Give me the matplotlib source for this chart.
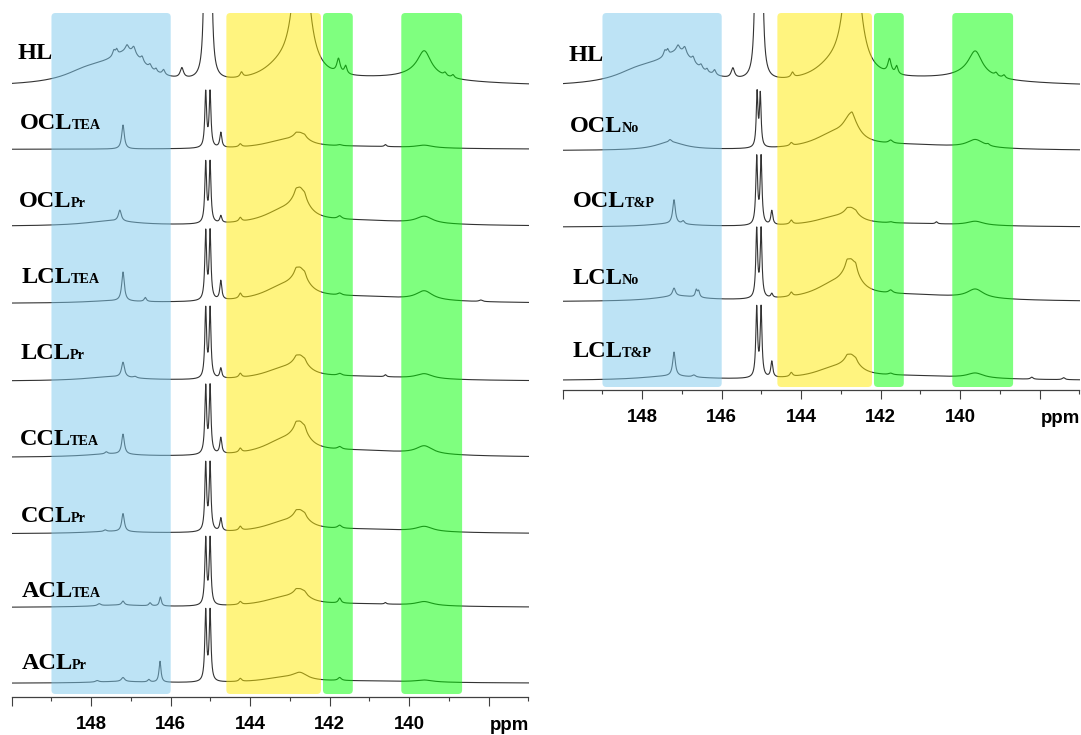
import numpy as np
import matplotlib
matplotlib.use("Agg")
import matplotlib.pyplot as plt
from matplotlib.patches import FancyBboxPatch
from matplotlib.ticker import FixedLocator, FixedFormatter

# ppm axis
PPM_MAX, PPM_MIN = 150.0, 137.0
MAJOR = [150, 148, 146, 144, 142, 140, 138]
MAJOR_LABELS = ['', '148', '146', '144', '142', '140', '']
MINOR = [149, 147, 145, 143, 141, 139, 137]

# shaded regions (ppm)
BAND_LO = [146.0, 142.22, 141.42, 138.67]
BAND_HI = [149.0, 144.6, 142.17, 140.2]
BAND_COLORS = ['#7DC9ED', '#FFEB00', '#00FF00', '#00FF00']

# peaks: (ppm, height, half width)
HL = [(140.5, 7, 2.5), (148.2, 5, 0.6), (147.7, 13, 0.9), (147.05, 24, 0.5),
      (147.43, 6, 0.04), (147.36, 5, 0.03), (147.1, 6, 0.05), (146.93, 7, 0.05),
      (146.72, 5, 0.04), (146.52, 4, 0.04), (146.37, 3, 0.03), (146.18, 5, 0.04),
      (145.72, 10, 0.05), (145.12, 400, 0.027), (145.01, 400, 0.027), (144.22, 5, 0.04),
      (143.25, 12, 0.55), (142.72, 200, 0.17), (141.78, 14, 0.05), (141.6, 8, 0.04),
      (139.7, 7, 0.5), (139.62, 22, 0.2), (139.1, 3, 0.04), (138.9, 3, 0.04)]
OCL_TEA = [(141.2, 2.5, 1.8), (147.2, 24, 0.04), (145.12, 55, 0.027), (145.01, 55, 0.027),
           (144.74, 15, 0.03), (144.25, 3, 0.04), (143.2, 6.7, 0.6), (142.75, 11, 0.22),
           (142.85, 1.5, 0.04), (142.63, 1.5, 0.04), (141.75, 1, 0.06), (140.6, 2, 0.03),
           (139.62, 2.6, 0.25)]
OCL_PR = [(141.2, 5, 1.8), (147.5, 5, 0.8), (147.28, 11, 0.045), (145.12, 60, 0.027),
          (145.01, 60, 0.027), (144.74, 7, 0.03), (144.25, 4, 0.04), (143.2, 11.8, 0.6),
          (142.75, 28, 0.22), (142.85, 3, 0.04), (142.63, 3, 0.04), (141.75, 3, 0.06),
          (139.62, 7, 0.25)]
LCL_TEA = [(141.2, 6, 1.8), (147.5, 2, 0.8), (147.2, 29, 0.04), (146.64, 4, 0.035),
           (145.12, 68, 0.027), (145.01, 68, 0.027), (144.74, 19, 0.03), (144.25, 5, 0.04),
           (143.2, 12.8, 0.6), (142.75, 24, 0.22), (142.85, 3, 0.04), (142.63, 3, 0.04),
           (141.75, 2, 0.06), (139.62, 9, 0.25), (138.2, 1.5, 0.05)]
LCL_PR = [(141.2, 4, 1.8), (147.5, 4, 0.8), (147.2, 15, 0.045), (146.9, 1.5, 0.05),
          (145.12, 69, 0.027), (145.01, 69, 0.027), (144.74, 10, 0.03), (144.25, 4, 0.04),
          (143.2, 9.4, 0.6), (142.75, 17.5, 0.22), (142.85, 2, 0.04), (142.63, 2, 0.04),
          (141.75, 2, 0.06), (140.6, 2, 0.03), (139.62, 5, 0.25)]
CCL_TEA = [(141.2, 6, 1.8), (147.5, 3, 0.8), (147.62, 2, 0.04), (147.2, 20, 0.04),
           (145.12, 67, 0.027), (145.01, 67, 0.027), (144.74, 16, 0.03), (144.25, 4, 0.04),
           (143.2, 12.8, 0.6), (142.75, 24, 0.22), (142.85, 3, 0.04), (142.63, 3, 0.04),
           (141.75, 2.5, 0.06), (139.62, 8, 0.25)]
CCL_PR = [(141.2, 4, 1.8), (147.5, 2, 0.8), (147.65, 1.5, 0.04), (147.2, 18, 0.04),
          (145.12, 67, 0.027), (145.01, 67, 0.027), (144.74, 13, 0.03), (144.25, 4, 0.04),
          (143.2, 8.5, 0.6), (142.75, 16, 0.22), (142.85, 2, 0.04), (142.63, 2, 0.04),
          (141.75, 3, 0.06), (139.62, 5, 0.25)]
ACL_TEA = [(141.2, 3, 1.8), (147.3, 2, 0.8), (147.8, 2, 0.05), (147.2, 4, 0.04),
           (146.52, 3, 0.035), (146.26, 9, 0.03), (145.12, 66, 0.027), (145.01, 66, 0.027),
           (144.25, 3, 0.04), (143.2, 7.4, 0.6), (142.75, 12, 0.22), (142.85, 1.5, 0.04),
           (142.63, 1.5, 0.04), (141.75, 5, 0.04), (140.6, 1.5, 0.03), (139.62, 4, 0.25)]
ACL_PR = [(141.2, 2, 1.8), (147.3, 1.5, 0.8), (147.85, 1.5, 0.05), (147.2, 4, 0.05),
          (146.55, 2.5, 0.035), (146.27, 21, 0.03), (145.12, 70, 0.027), (145.01, 70, 0.027),
          (144.25, 3, 0.04), (143.2, 4.4, 0.6), (142.75, 7, 0.22), (141.75, 3, 0.05),
          (139.62, 2, 0.25)]
OCL_NO = [(141.2, 5, 1.8), (147.3, 8, 0.45), (147.3, 2.5, 0.04), (145.11, 54, 0.025),
          (145.03, 52, 0.025), (144.25, 3, 0.04), (143.2, 13.2, 0.6), (142.75, 25, 0.22),
          (142.72, 3, 0.04), (141.75, 3, 0.06), (139.62, 8, 0.25), (139.3, 1.5, 0.04)]
OCL_TP = [(141.2, 3, 1.8), (147.3, 3, 0.7), (147.2, 24, 0.04), (146.97, 3, 0.04),
          (145.12, 67, 0.027), (145.01, 67, 0.027), (144.74, 14, 0.03), (144.25, 4, 0.04),
          (143.2, 7.3, 0.6), (142.75, 13, 0.22), (142.85, 1.5, 0.04), (142.63, 1.5, 0.04),
          (141.75, 1, 0.06), (140.6, 2, 0.03), (139.62, 4, 0.25)]
LCL_NO = [(141.2, 6, 1.8), (147.1, 5, 0.7), (147.2, 8, 0.045), (146.64, 7, 0.03),
          (146.58, 6, 0.03), (145.12, 68, 0.027), (145.01, 68, 0.027), (144.74, 4, 0.03),
          (144.25, 4, 0.04), (143.2, 13.2, 0.6), (142.75, 30, 0.22), (142.85, 4, 0.04),
          (142.63, 5, 0.04), (141.75, 3, 0.06), (139.62, 9, 0.25)]
LCL_TP = [(141.2, 4, 1.8), (147.3, 4, 0.9), (147.2, 24, 0.04), (146.7, 2, 0.05),
          (145.12, 69, 0.027), (145.01, 69, 0.027), (144.74, 16, 0.03), (144.25, 4, 0.04),
          (143.2, 9.4, 0.6), (142.75, 17.5, 0.22), (142.85, 2, 0.04), (142.63, 2, 0.04),
          (141.75, 1.5, 0.06), (139.62, 5, 0.25), (138.2, 2, 0.04), (137.4, 2, 0.04)]

LEFT_SPECTRA = [HL, OCL_TEA, OCL_PR, LCL_TEA, LCL_PR, CCL_TEA, CCL_PR, ACL_TEA, ACL_PR]
LEFT_OFFSETS = [610, 547.6, 470.5, 393.4, 315.7, 239.4, 163.1, 89.5, 13.7]
LEFT_NAMES = [('HL', ''), ('OCL', 'TEA'), ('OCL', 'Pr'), ('LCL', 'TEA'), ('LCL', 'Pr'),
              ('CCL', 'TEA'), ('CCL', 'Pr'), ('ACL', 'TEA'), ('ACL', 'Pr')]

RIGHT_SPECTRA = [HL, OCL_NO, OCL_TP, LCL_NO, LCL_TP]
RIGHT_OFFSETS = [302.8, 239.2, 162.8, 88.1, 9.4]
RIGHT_NAMES = [('HL', ''), ('OCL', 'No'), ('OCL', 'T&P'), ('LCL', 'No'), ('LCL', 'T&P')]

W, H = 1081, 735
# label anchor (left x, text baseline y) in pixels
LEFT_LABEL_POS = [(18, 59), (20, 129), (19, 207), (22, 283), (21, 359),
                  (20, 445), (21, 522), (22, 597), (22, 669)]
RIGHT_LABEL_POS = [(569, 61), (570, 132), (573, 207), (573, 284), (573, 357)]

ppm = np.linspace(PPM_MAX, PPM_MIN, 6501)


def spectrum(peaks):
    y = np.zeros_like(ppm)
    for c, h, w in peaks:
        y += h * w ** 2 / ((ppm - c) ** 2 + w ** 2)
    return y


fig = plt.figure(figsize=(W / 100, H / 100), dpi=100)


def make_axes(x0, x1, ytop, ybot):
    return fig.add_axes([x0 / W, 1 - ybot / H, (x1 - x0) / W, (ybot - ytop) / H])


axL = make_axes(11.7, 528.5, 13, 697)
axR = make_axes(562.7, 1079.5, 13, 390)

tick_font = dict(family='Liberation Sans', weight='bold', size=13.4)

for ax, spectra, offsets, height in [(axL, LEFT_SPECTRA, LEFT_OFFSETS, 684),
                                     (axR, RIGHT_SPECTRA, RIGHT_OFFSETS, 377)]:
    ax.set_xlim(PPM_MAX, PPM_MIN)
    ax.set_ylim(0, height)
    for peaks, off in zip(spectra, offsets):
        ax.plot(ppm, off + spectrum(peaks), color='#333333', lw=0.8, zorder=2)
    px_per_ppm = 516.8 / (PPM_MAX - PPM_MIN)
    r = 4 / px_per_ppm
    for lo, hi, col in zip(BAND_LO, BAND_HI, BAND_COLORS):
        ax.add_patch(FancyBboxPatch((lo, 3), hi - lo, height - 3,
                                    boxstyle=f"round,pad=0,rounding_size={r}",
                                    mutation_aspect=px_per_ppm, facecolor=col,
                                    edgecolor='none', alpha=0.5, zorder=3))
    for s in ['top', 'left', 'right']:
        ax.spines[s].set_visible(False)
    ax.spines['bottom'].set_color('#404040')
    ax.spines['bottom'].set_linewidth(0.9)
    ax.set_yticks([])
    ax.xaxis.set_major_locator(FixedLocator(MAJOR))
    ax.xaxis.set_major_formatter(FixedFormatter(MAJOR_LABELS))
    ax.xaxis.set_minor_locator(FixedLocator(MINOR))
    ax.tick_params(axis='x', which='major', length=6.5, width=0.8, color='#404040',
                   direction='out', pad=7.5)
    ax.tick_params(axis='x', which='minor', length=3, width=0.8, color='#404040',
                   direction='out')
    for lab in ax.get_xticklabels():
        lab.set_fontproperties(tick_font)
    ax.annotate('ppm', xy=(137.48, 0), xycoords=ax.get_xaxis_transform(),
                xytext=(0, -24), textcoords='offset points', ha='center',
                va='baseline', fontfamily='Liberation Sans', fontweight='bold',
                fontsize=13.4)
    ax.set_facecolor('none')

for ax, names, pos in [(axL, LEFT_NAMES, LEFT_LABEL_POS), (axR, RIGHT_NAMES, RIGHT_LABEL_POS)]:
    for (main, sub), (x, y) in zip(names, pos):
        t = fig.text(x / W, 1 - y / H, main, fontsize=17.5, fontweight='bold',
                     family='Liberation Serif', va='baseline', ha='left', zorder=10)
        if sub:
            # sit the small text on the same baseline as the main text
            ax.annotate(sub, xy=(1, 0), xycoords=t, xytext=(-0.8, 3.8),
                        textcoords='offset points', va='baseline', ha='left',
                        fontsize=10.2, fontweight='bold', family='Liberation Serif',
                        zorder=10, annotation_clip=False)

fig.savefig('out.png', dpi=100)
